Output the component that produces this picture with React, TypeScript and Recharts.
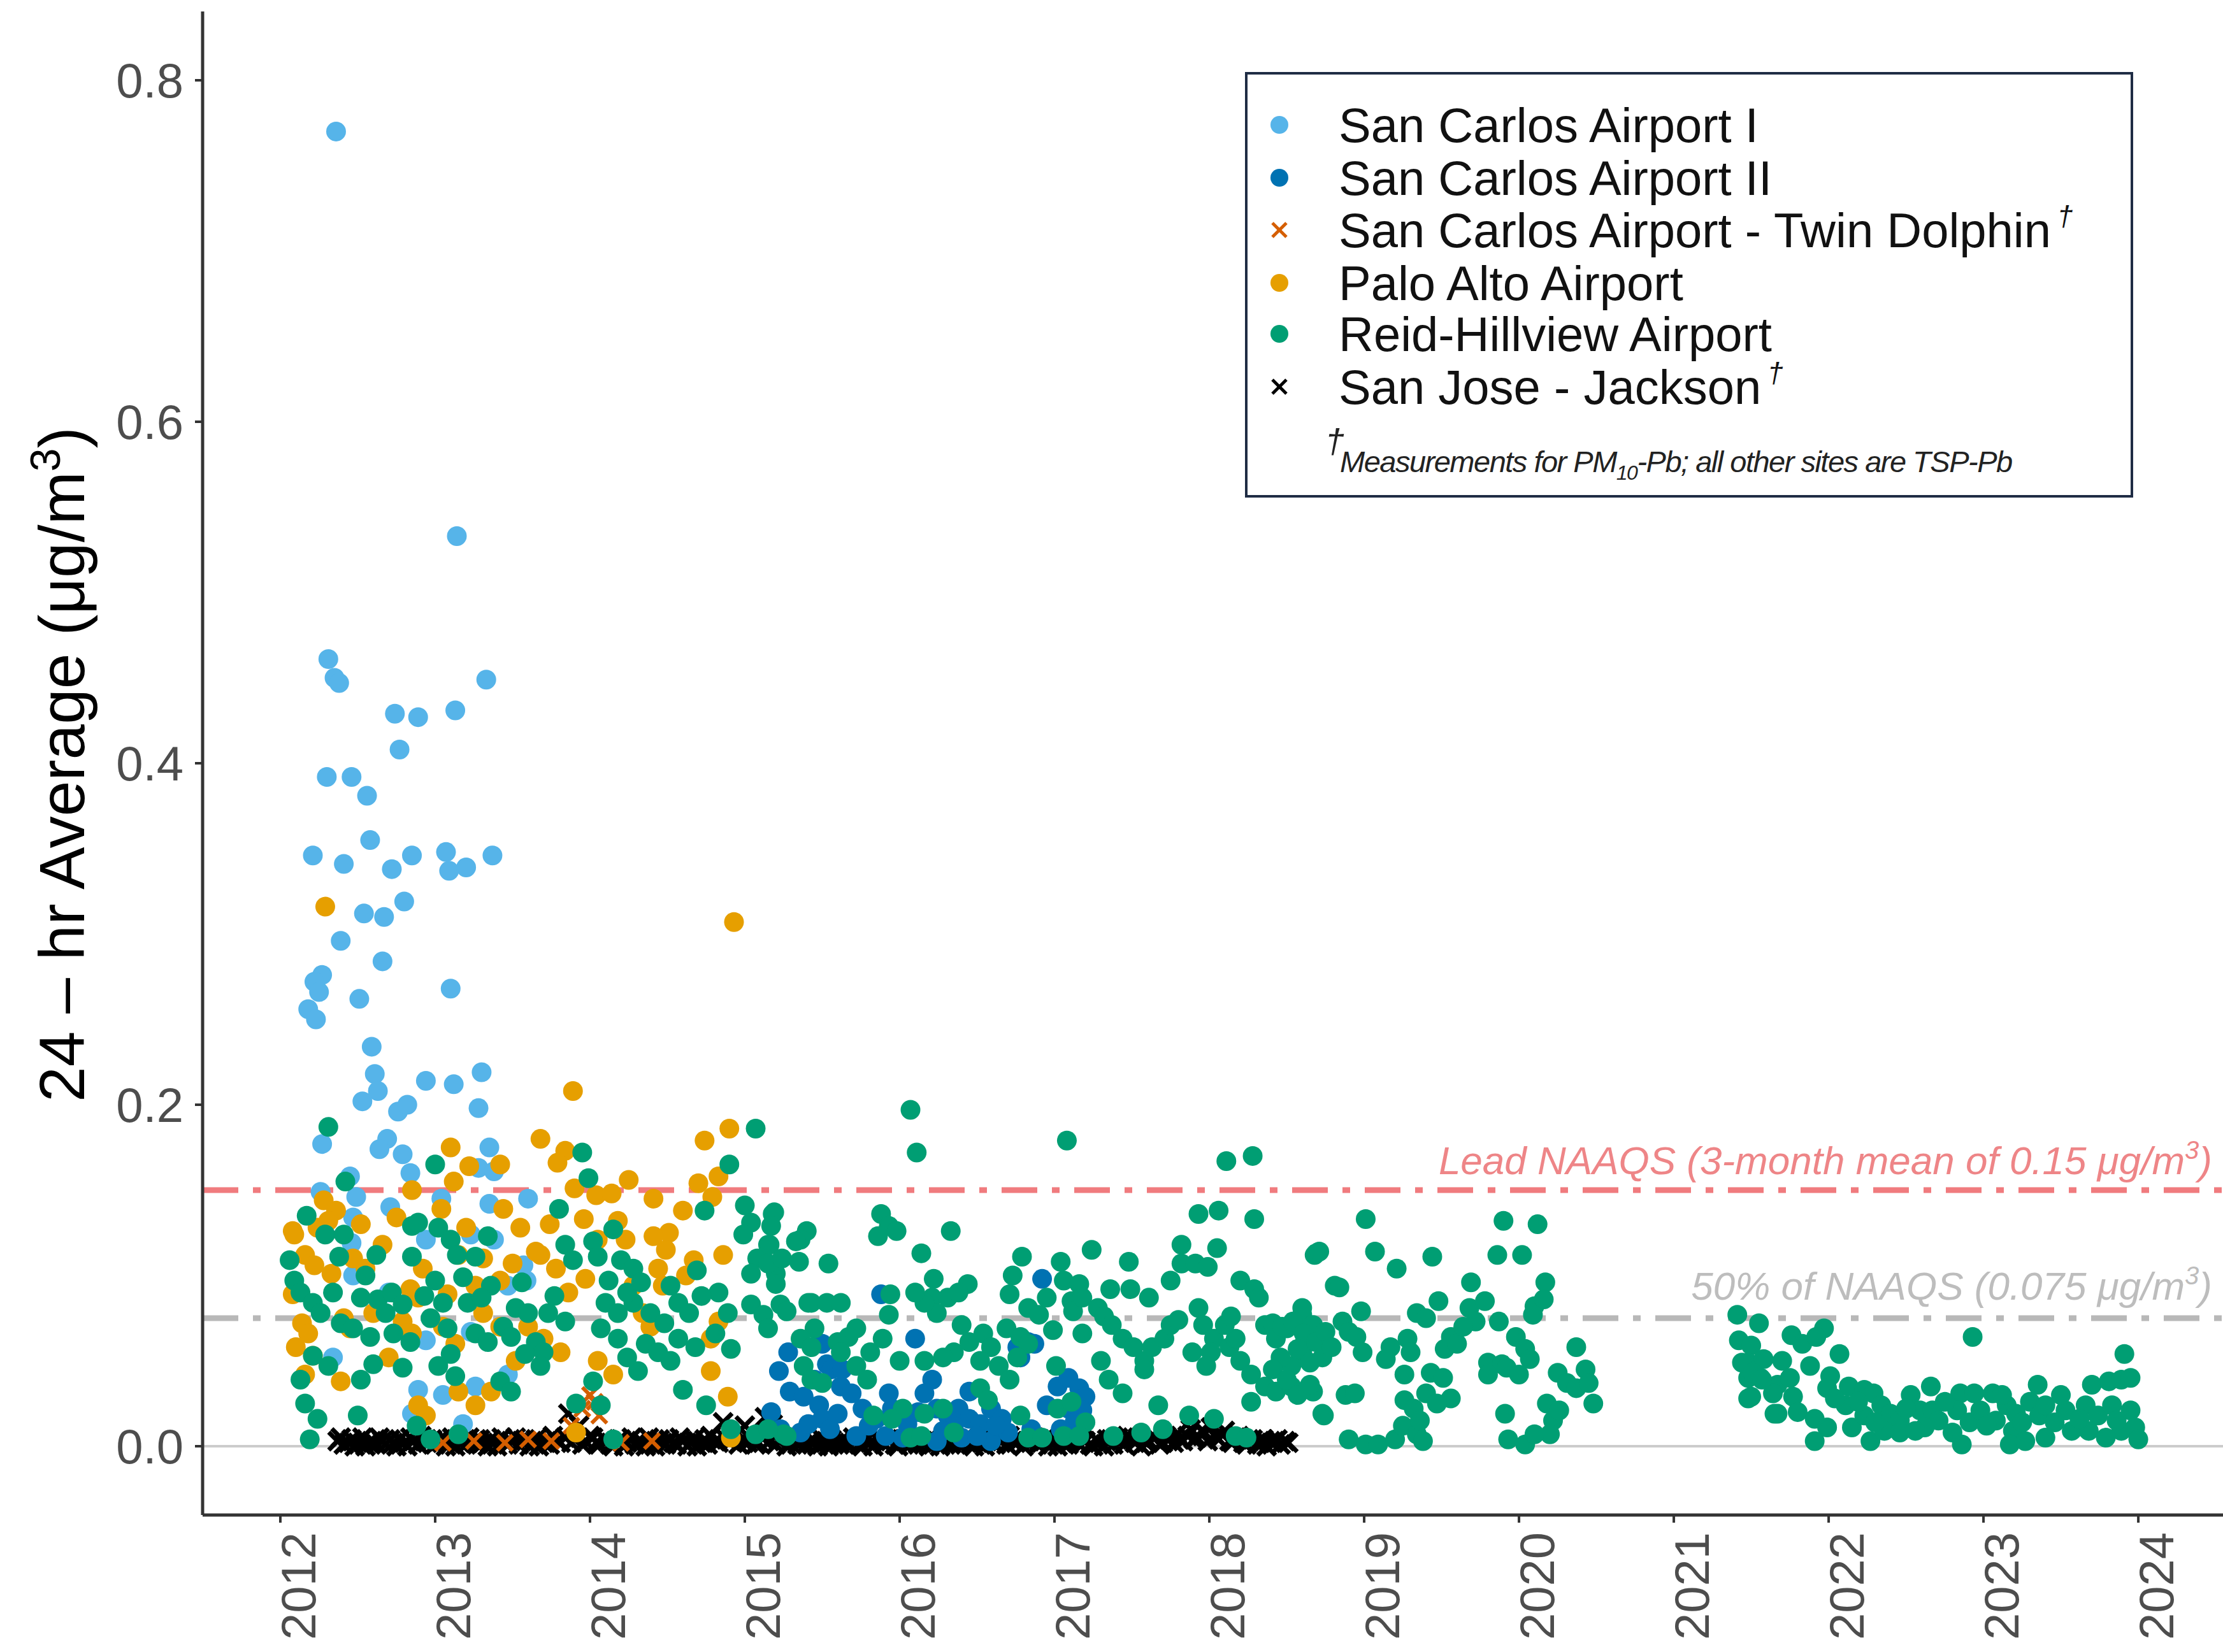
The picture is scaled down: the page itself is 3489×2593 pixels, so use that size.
import {
  ScatterChart,
  Scatter,
  XAxis,
  YAxis,
  ReferenceLine,
  Legend,
  Label,
} from 'recharts';

// [decimal year, 24-hr average µg/m3]
const sanCarlosI: [number, number][] = [
  [2012.36, 0.77], [2013.14, 0.533], [2012.31, 0.461], [2012.35, 0.45], [2012.38, 0.447],
  [2012.74, 0.429], [2012.89, 0.427], [2013.13, 0.431], [2013.33, 0.449],
  [2012.77, 0.408], [2012.3, 0.392], [2012.46, 0.392], [2012.56, 0.381], [2012.58, 0.355],
  [2012.21, 0.346], [2012.41, 0.341], [2012.72, 0.338], [2012.85, 0.346], [2013.07, 0.348],
  [2013.09, 0.337], [2013.2, 0.339], [2013.37, 0.346], [2012.8, 0.319], [2012.54, 0.312],
  [2012.67, 0.31], [2012.39, 0.296], [2012.66, 0.284], [2012.27, 0.276], [2012.22, 0.272],
  [2012.25, 0.266], [2013.1, 0.268], [2012.51, 0.262], [2012.18, 0.256], [2012.23, 0.25],
  [2012.59, 0.234], [2012.61, 0.218], [2012.63, 0.208], [2012.53, 0.202], [2012.94, 0.214],
  [2013.12, 0.212], [2013.3, 0.219], [2013.28, 0.198], [2012.76, 0.196], [2012.82, 0.2],
  [2012.27, 0.177], [2012.69, 0.18], [2012.64, 0.174], [2012.79, 0.171], [2012.84, 0.16],
  [2013.35, 0.175], [2013.28, 0.163], [2013.38, 0.161], [2012.45, 0.158], [2012.49, 0.146],
  [2012.71, 0.14], [2013.04, 0.145], [2013.6, 0.145], [2012.94, 0.121], [2013.23, 0.124],
  [2012.34, 0.052], [2012.89, 0.033], [2013.05, 0.03], [2013.26, 0.035], [2013.18, 0.013],
  [2012.85, 0.019], [2013.47, 0.042], [2013.47, 0.094], [2013.57, 0.106], [2012.47, 0.134],
  [2012.26, 0.149], [2012.46, 0.119], [2012.47, 0.1], [2012.7, 0.09], [2012.94, 0.062],
  [2013.23, 0.067], [2013.35, 0.142], [2013.38, 0.121], [2013.59, 0.097],
];

const sanCarlosII: [number, number][] = [
  [2016.92, 0.098], [2015.88, 0.089], [2016.1, 0.063], [2015.28, 0.055], [2015.22, 0.044],
  [2015.5, 0.06], [2015.53, 0.048], [2015.56, 0.045], [2015.62, 0.035], [2015.29, 0.032],
  [2015.38, 0.029], [2015.48, 0.024], [2015.5, 0.016], [2015.69, 0.031], [2015.76, 0.022],
  [2015.93, 0.031], [2015.95, 0.022], [2016.21, 0.039], [2016.16, 0.031], [2016.24, 0.022],
  [2016.31, 0.018], [2016.38, 0.022], [2016.45, 0.016], [2016.52, 0.013], [2016.59, 0.022],
  [2016.66, 0.016], [2016.76, 0.058], [2016.83, 0.061], [2016.87, 0.06], [2016.78, 0.052],
  [2017.02, 0.035], [2017.09, 0.04], [2017.16, 0.034], [2017.2, 0.029], [2016.95, 0.024],
  [2017.09, 0.022], [2017.18, 0.021], [2015.36, 0.008], [2015.55, 0.01], [2015.72, 0.006],
  [2015.91, 0.006], [2016.02, 0.005], [2016.24, 0.003], [2016.4, 0.005], [2016.59, 0.003],
  [2015.6, 0.019], [2016.45, 0.032], [2015.45, 0.039], [2015.63, 0.045], [2017.13, 0.014],
  [2017.04, 0.01], [2015.23, 0.01], [2015.41, 0.013], [2015.17, 0.02], [2015.8, 0.012],
  [2016.05, 0.013], [2016.7, 0.008], [2016.85, 0.01], [2016.35, 0.012], [2016.5, 0.006],
  [2016.28, 0.009], [2015.85, 0.016], [2016.12, 0.02], [2016.62, 0.012],
];

const twinDolphin: [number, number][] = [
  [2013.88, 0.012], [2013.95, 0.022], [2014.0, 0.03], [2014.03, 0.026], [2014.06, 0.018],
  [2013.05, 0.002], [2013.25, 0.003], [2013.45, 0.002], [2013.6, 0.004], [2013.75, 0.003],
  [2014.2, 0.002], [2014.4, 0.003],
];

const paloAlto: [number, number][] = [
  [2012.29, 0.316], [2014.93, 0.307], [2013.89, 0.208], [2013.68, 0.18], [2013.84, 0.173],
  [2013.79, 0.166], [2013.1, 0.175], [2013.22, 0.164], [2013.42, 0.165], [2013.12, 0.155],
  [2012.85, 0.15], [2013.9, 0.151], [2014.04, 0.147], [2014.14, 0.148], [2014.25, 0.156],
  [2014.41, 0.145], [2012.28, 0.144], [2012.36, 0.138], [2013.04, 0.139], [2013.44, 0.139],
  [2012.08, 0.126], [2012.52, 0.13], [2012.75, 0.134], [2013.55, 0.128], [2013.74, 0.13],
  [2013.96, 0.133], [2014.51, 0.125], [2014.74, 0.179], [2014.9, 0.186], [2014.83, 0.158],
  [2014.7, 0.154], [2014.79, 0.146], [2012.31, 0.132], [2012.09, 0.124], [2014.86, 0.112],
  [2014.67, 0.109], [2012.16, 0.112], [2012.22, 0.106], [2012.47, 0.11], [2012.55, 0.104],
  [2012.92, 0.104], [2013.15, 0.112], [2013.31, 0.11], [2013.65, 0.114], [2014.05, 0.121],
  [2014.23, 0.121], [2014.41, 0.123], [2014.49, 0.115], [2012.08, 0.089], [2012.84, 0.092],
  [2012.89, 0.087], [2013.08, 0.089], [2013.26, 0.094], [2013.42, 0.097], [2013.68, 0.112],
  [2013.78, 0.104], [2013.86, 0.09], [2014.44, 0.104], [2014.47, 0.094], [2012.14, 0.072],
  [2012.18, 0.066], [2012.1, 0.058], [2012.41, 0.075], [2012.45, 0.069], [2012.79, 0.073],
  [2012.85, 0.066], [2012.6, 0.078], [2013.05, 0.07], [2013.13, 0.06], [2013.31, 0.078],
  [2013.42, 0.07], [2013.6, 0.07], [2013.7, 0.063], [2013.81, 0.055], [2014.05, 0.05],
  [2014.15, 0.042], [2014.34, 0.078], [2014.39, 0.07], [2014.83, 0.073], [2014.78, 0.063],
  [2014.78, 0.044], [2014.89, 0.029], [2012.39, 0.038], [2012.21, 0.053], [2012.16, 0.042],
  [2012.89, 0.024], [2012.94, 0.018], [2013.15, 0.032], [2013.26, 0.024], [2013.36, 0.032],
  [2013.91, 0.008], [2014.91, 0.005], [2012.24, 0.128], [2012.33, 0.101], [2012.66, 0.118],
  [2013.2, 0.128], [2013.5, 0.107], [2013.97, 0.098], [2014.18, 0.132], [2014.6, 0.138],
  [2014.62, 0.1], [2012.7, 0.052], [2013.52, 0.05], [2014.28, 0.094],
];

const reidHillview: [number, number][] = [
  // 2012 - mid 2015
  [2012.31, 0.187], [2015.07, 0.186], [2013.95, 0.172], [2013.99, 0.157], [2012.42, 0.155],
  [2013.0, 0.165], [2014.9, 0.165], [2014.74, 0.138], [2015.0, 0.141], [2015.19, 0.137],
  [2015.04, 0.131], [2012.17, 0.135], [2013.8, 0.139], [2014.15, 0.127], [2015.4, 0.126],
  [2015.36, 0.121], [2012.29, 0.124], [2012.41, 0.124], [2012.85, 0.129], [2012.89, 0.131],
  [2013.02, 0.128], [2013.1, 0.121], [2013.34, 0.123], [2013.84, 0.118], [2014.02, 0.12],
  [2014.99, 0.124], [2015.15, 0.118], [2015.08, 0.11], [2012.06, 0.109], [2012.38, 0.111],
  [2012.62, 0.112], [2012.85, 0.111], [2013.14, 0.112], [2013.26, 0.111], [2013.89, 0.109],
  [2014.05, 0.111], [2014.2, 0.109], [2014.28, 0.104], [2014.69, 0.103], [2015.04, 0.101],
  [2015.2, 0.101], [2012.09, 0.097], [2012.13, 0.09], [2012.34, 0.09], [2012.21, 0.084],
  [2012.52, 0.087], [2012.63, 0.086], [2012.72, 0.09], [2012.79, 0.083], [2013.0, 0.097],
  [2013.05, 0.084], [2013.21, 0.084], [2013.36, 0.094], [2013.52, 0.081], [2013.6, 0.078],
  [2013.73, 0.078], [2013.84, 0.073], [2014.1, 0.084], [2014.18, 0.078], [2014.28, 0.084],
  [2014.39, 0.078], [2014.52, 0.094], [2014.57, 0.084], [2014.83, 0.09], [2014.89, 0.078],
  [2015.04, 0.083], [2015.12, 0.077], [2015.23, 0.083], [2015.41, 0.084], [2012.26, 0.078],
  [2012.39, 0.072], [2012.47, 0.069], [2012.58, 0.064], [2012.73, 0.066], [2012.84, 0.061],
  [2012.97, 0.075], [2013.08, 0.069], [2013.26, 0.066], [2013.34, 0.061], [2013.44, 0.07],
  [2013.49, 0.064], [2013.65, 0.061], [2013.7, 0.055], [2014.07, 0.069], [2014.18, 0.063],
  [2014.36, 0.06], [2014.44, 0.055], [2014.57, 0.063], [2014.68, 0.058], [2014.81, 0.066],
  [2014.91, 0.057], [2012.21, 0.053], [2012.31, 0.047], [2012.13, 0.039], [2012.52, 0.039],
  [2012.79, 0.046], [2013.02, 0.047], [2013.13, 0.041], [2013.42, 0.038], [2013.49, 0.032],
  [2013.68, 0.047], [2014.02, 0.038], [2014.31, 0.044], [2014.6, 0.033], [2014.75, 0.024],
  [2012.16, 0.025], [2012.24, 0.016], [2012.19, 0.004], [2012.5, 0.018], [2012.88, 0.012],
  [2012.97, 0.004], [2013.15, 0.007], [2013.91, 0.025], [2014.07, 0.024], [2014.15, 0.004],
  [2014.91, 0.01], [2015.07, 0.007], [2015.25, 0.007],
  [2012.55, 0.1], [2012.68, 0.078], [2012.93, 0.088], [2013.18, 0.099], [2013.3, 0.087],
  [2013.56, 0.096], [2013.77, 0.088], [2014.12, 0.097], [2014.24, 0.09], [2014.33, 0.096],
  [2014.48, 0.072], [2014.64, 0.078], [2014.72, 0.088], [2013.58, 0.054], [2014.24, 0.052],
  [2014.52, 0.05], [2012.6, 0.048], [2013.1, 0.054],
  // mid 2015 - 2018
  [2016.07, 0.197], [2016.11, 0.172], [2017.08, 0.179], [2018.11, 0.167], [2018.28, 0.17],
  [2015.18, 0.136], [2015.17, 0.129], [2015.33, 0.12], [2015.16, 0.118], [2015.15, 0.107],
  [2015.24, 0.11], [2015.35, 0.108], [2015.2, 0.095], [2015.27, 0.079], [2015.15, 0.069],
  [2015.54, 0.107], [2015.43, 0.084], [2015.53, 0.084], [2015.62, 0.084], [2015.45, 0.069],
  [2015.72, 0.069], [2015.67, 0.064], [2015.36, 0.063], [2015.43, 0.058], [2015.6, 0.061],
  [2015.62, 0.055], [2015.38, 0.047], [2015.43, 0.039], [2015.72, 0.047], [2015.79, 0.039],
  [2015.88, 0.136], [2015.93, 0.129], [2015.86, 0.123], [2015.98, 0.126], [2016.33, 0.126],
  [2016.14, 0.113], [2016.22, 0.098], [2016.21, 0.087], [2016.24, 0.078], [2016.16, 0.084],
  [2016.1, 0.09], [2016.31, 0.087], [2016.44, 0.095], [2016.38, 0.09], [2015.94, 0.089],
  [2015.93, 0.077], [2015.89, 0.063], [2015.81, 0.055], [2016.0, 0.05], [2016.16, 0.05],
  [2016.4, 0.071], [2016.45, 0.061], [2016.35, 0.055], [2016.28, 0.052], [2016.54, 0.066],
  [2016.59, 0.058], [2016.52, 0.05], [2016.64, 0.047], [2016.69, 0.069], [2016.79, 0.111],
  [2016.73, 0.1], [2016.71, 0.089], [2016.83, 0.081], [2016.9, 0.077], [2017.04, 0.108],
  [2016.95, 0.087], [2017.06, 0.097], [2017.16, 0.095], [2017.11, 0.085], [2017.12, 0.079],
  [2016.78, 0.064], [2016.83, 0.06], [2016.99, 0.068], [2017.01, 0.047], [2016.76, 0.052],
  [2016.71, 0.039], [2016.52, 0.034], [2016.57, 0.027], [2016.28, 0.022], [2016.16, 0.019],
  [2016.02, 0.022], [2015.83, 0.018], [2015.95, 0.016], [2016.07, 0.005], [2016.14, 0.006],
  [2015.5, 0.037], [2015.27, 0.006], [2015.15, 0.01], [2016.35, 0.008], [2016.78, 0.018],
  [2016.83, 0.005], [2016.92, 0.005], [2017.02, 0.022], [2017.11, 0.026], [2017.2, 0.014],
  [2017.06, 0.006], [2017.16, 0.006], [2017.24, 0.115], [2017.18, 0.087], [2017.28, 0.081],
  [2017.32, 0.076], [2017.36, 0.092], [2017.49, 0.092], [2017.48, 0.108], [2017.61, 0.087],
  [2017.18, 0.066], [2017.37, 0.071], [2017.44, 0.063], [2017.51, 0.058], [2017.58, 0.05],
  [2017.63, 0.058], [2017.71, 0.063], [2017.75, 0.071], [2017.8, 0.074], [2017.3, 0.05],
  [2017.35, 0.039], [2017.44, 0.031], [2017.58, 0.045], [2017.67, 0.024], [2017.82, 0.118],
  [2017.82, 0.107], [2017.75, 0.097], [2017.91, 0.107], [2017.99, 0.105], [2018.05, 0.116],
  [2017.93, 0.136], [2018.06, 0.138], [2018.29, 0.133], [2017.93, 0.081], [2017.96, 0.071],
  [2018.03, 0.063], [2018.01, 0.055], [2018.13, 0.058], [2017.89, 0.055], [2017.98, 0.047],
  [2018.2, 0.097], [2018.29, 0.092], [2018.32, 0.087], [2018.17, 0.063], [2018.2, 0.05],
  [2018.1, 0.071], [2018.14, 0.076], [2018.36, 0.071], [2018.43, 0.063], [2018.27, 0.042],
  [2018.36, 0.035], [2018.43, 0.032], [2018.53, 0.035], [2018.67, 0.032], [2018.27, 0.026],
  [2018.6, 0.077], [2018.5, 0.069], [2018.62, 0.063], [2018.6, 0.055], [2018.53, 0.047],
  [2018.67, 0.071], [2018.74, 0.063], [2018.69, 0.113], [2018.74, 0.018], [2018.81, 0.094],
  [2017.87, 0.018], [2018.03, 0.016], [2018.17, 0.006], [2018.24, 0.005], [2017.38, 0.006],
  [2017.56, 0.008], [2017.7, 0.01],
  // 2018.4 - 2020.5
  [2019.01, 0.133], [2019.9, 0.132], [2020.12, 0.13], [2018.68, 0.112], [2018.71, 0.114],
  [2019.07, 0.114], [2019.21, 0.104], [2019.44, 0.111], [2019.86, 0.112], [2020.02, 0.112],
  [2019.69, 0.096], [2018.84, 0.093], [2020.17, 0.096], [2018.6, 0.081], [2018.98, 0.079],
  [2019.48, 0.085], [2019.34, 0.078], [2019.4, 0.075], [2019.68, 0.081], [2019.78, 0.085],
  [2019.72, 0.073], [2020.1, 0.082], [2020.16, 0.086], [2020.09, 0.077], [2018.41, 0.072],
  [2018.47, 0.07], [2018.54, 0.073], [2018.61, 0.066], [2018.69, 0.061], [2018.75, 0.067],
  [2018.86, 0.073], [2018.9, 0.067], [2018.46, 0.052], [2018.57, 0.057], [2018.65, 0.049],
  [2018.73, 0.052], [2018.79, 0.058], [2018.95, 0.064], [2018.99, 0.055], [2019.17, 0.058],
  [2019.14, 0.051], [2019.28, 0.063], [2019.3, 0.055], [2019.56, 0.064], [2019.52, 0.057],
  [2019.6, 0.06], [2019.64, 0.07], [2019.87, 0.073], [2019.98, 0.064], [2020.04, 0.057],
  [2019.8, 0.049], [2019.89, 0.048], [2020.07, 0.051], [2020.37, 0.058], [2020.25, 0.043],
  [2020.31, 0.037], [2020.37, 0.034], [2020.43, 0.045], [2020.45, 0.037], [2020.48, 0.025],
  [2018.41, 0.045], [2018.5, 0.039], [2018.57, 0.03], [2018.65, 0.036], [2018.73, 0.019],
  [2018.88, 0.03], [2018.94, 0.031], [2019.26, 0.042], [2019.26, 0.027], [2019.32, 0.022],
  [2019.43, 0.043], [2019.51, 0.04], [2019.4, 0.031], [2019.56, 0.028], [2019.47, 0.025],
  [2019.8, 0.042], [2019.92, 0.046], [2020.0, 0.042], [2019.91, 0.019], [2020.18, 0.025],
  [2020.22, 0.015], [2020.26, 0.021], [2020.2, 0.007], [2018.9, 0.004], [2019.01, 0.001],
  [2019.09, 0.001], [2019.2, 0.004], [2019.25, 0.012], [2019.34, 0.007], [2019.38, 0.003],
  [2019.36, 0.015], [2019.93, 0.004], [2020.04, 0.001], [2020.1, 0.007],
  // 2021.4 - 2024
  [2021.41, 0.077], [2021.55, 0.072], [2021.42, 0.062], [2021.5, 0.059], [2021.76, 0.065],
  [2021.83, 0.06], [2021.97, 0.069], [2021.92, 0.064], [2022.07, 0.054], [2021.48, 0.049],
  [2021.58, 0.051], [2021.7, 0.05], [2021.88, 0.047], [2021.48, 0.04], [2021.56, 0.04],
  [2021.67, 0.036], [2021.75, 0.04], [2021.5, 0.029], [2021.64, 0.031], [2021.77, 0.029],
  [2021.67, 0.019], [2021.8, 0.02], [2022.01, 0.041], [2021.99, 0.034], [2021.91, 0.016],
  [2021.99, 0.011], [2021.91, 0.003], [2022.13, 0.035], [2022.23, 0.033], [2022.29, 0.031],
  [2022.11, 0.024], [2022.15, 0.011], [2022.23, 0.018], [2022.27, 0.003], [2022.34, 0.024],
  [2022.4, 0.019], [2022.46, 0.015], [2022.36, 0.009], [2022.46, 0.008], [2022.53, 0.03],
  [2022.59, 0.021], [2022.66, 0.035], [2022.67, 0.021], [2022.71, 0.015], [2022.62, 0.011],
  [2022.56, 0.009], [2022.93, 0.064], [2022.85, 0.031], [2022.94, 0.031], [2023.06, 0.031],
  [2022.83, 0.021], [2022.91, 0.014], [2022.98, 0.021], [2022.86, 0.001], [2023.08, 0.015],
  [2023.15, 0.024], [2023.19, 0.009], [2023.21, 0.019], [2023.25, 0.014], [2023.3, 0.026],
  [2023.35, 0.036], [2023.36, 0.018], [2023.17, 0.001], [2023.27, 0.003], [2023.4, 0.024],
  [2023.46, 0.014], [2023.53, 0.021], [2023.4, 0.005], [2023.57, 0.009], [2023.7, 0.036],
  [2023.81, 0.038], [2023.89, 0.039], [2023.91, 0.054], [2023.95, 0.04], [2023.66, 0.024],
  [2023.74, 0.018], [2023.83, 0.024], [2023.89, 0.009], [2023.98, 0.011], [2024.0, 0.004],
  [2023.95, 0.021], [2023.68, 0.009], [2023.79, 0.005], [2021.44, 0.049], [2021.51, 0.043],
  [2021.57, 0.039], [2021.48, 0.028], [2021.65, 0.019], [2022.04, 0.028], [2022.19, 0.026],
  [2022.5, 0.022], [2022.75, 0.026], [2023.02, 0.012], [2023.12, 0.03], [2023.5, 0.03],
  [2023.62, 0.016], [2023.86, 0.015], [2022.8, 0.008], [2022.3, 0.014],
];

const sanJoseJackson: [number, number][] = [
  [2012.37, 0.003], [2012.39, 0.005], [2012.41, 0.001], [2012.44, 0.002], [2012.46, 0.004],
  [2012.48, 0.0], [2012.5, 0.002], [2012.53, 0.005], [2012.55, 0.0], [2012.57, 0.002],
  [2012.59, 0.003], [2012.62, 0.001], [2012.64, 0.005], [2012.66, 0.003], [2012.68, 0.001],
  [2012.71, 0.004], [2012.73, 0.002], [2012.75, 0.0], [2012.77, 0.004], [2012.8, 0.002],
  [2012.82, 0.0], [2012.84, 0.005], [2012.86, 0.003], [2012.89, 0.001], [2012.91, 0.006],
  [2012.93, 0.003], [2012.95, 0.002], [2012.98, 0.004], [2013.0, 0.001], [2013.02, 0.003],
  [2013.04, 0.004], [2013.07, 0.0], [2013.09, 0.002], [2013.11, 0.005], [2013.13, 0.0],
  [2013.16, 0.002], [2013.18, 0.003], [2013.2, 0.001], [2013.22, 0.005], [2013.25, 0.003],
  [2013.27, 0.001], [2013.29, 0.004], [2013.31, 0.002], [2013.34, 0.0], [2013.36, 0.004],
  [2013.38, 0.002], [2013.4, 0.0], [2013.43, 0.005], [2013.45, 0.002], [2013.47, 0.001],
  [2013.49, 0.003], [2013.52, 0.005], [2013.54, 0.001], [2013.56, 0.003], [2013.58, 0.004],
  [2013.61, 0.0], [2013.63, 0.002], [2013.65, 0.004], [2013.67, 0.0], [2013.7, 0.002],
  [2013.72, 0.003], [2013.74, 0.001], [2013.76, 0.006], [2013.79, 0.003], [2013.81, 0.002],
  [2013.84, 0.005], [2013.86, 0.019], [2013.88, 0.002], [2013.9, 0.004], [2013.93, 0.012],
  [2013.95, 0.001], [2013.97, 0.003], [2014.0, 0.006], [2014.02, 0.005], [2014.04, 0.002],
  [2014.06, 0.001], [2014.09, 0.004], [2014.11, 0.003], [2014.13, 0.001], [2014.15, 0.0],
  [2014.18, 0.003], [2014.2, 0.004], [2014.22, 0.0], [2014.24, 0.002], [2014.27, 0.005],
  [2014.29, 0.001], [2014.31, 0.002], [2014.33, 0.003], [2014.36, 0.0], [2014.38, 0.005],
  [2014.4, 0.002], [2014.42, 0.0], [2014.45, 0.004], [2014.47, 0.002], [2014.49, 0.001],
  [2014.51, 0.004], [2014.54, 0.002], [2014.56, 0.001], [2014.58, 0.005], [2014.6, 0.003],
  [2014.63, 0.0], [2014.65, 0.002], [2014.67, 0.004], [2014.69, 0.0], [2014.72, 0.002],
  [2014.74, 0.004], [2014.76, 0.001], [2014.78, 0.006], [2014.81, 0.003], [2014.83, 0.002],
  [2014.86, 0.014], [2014.88, 0.004], [2014.91, 0.003], [2014.93, 0.006], [2014.96, 0.001],
  [2014.98, 0.004], [2015.0, 0.012], [2015.02, 0.002], [2015.04, 0.004], [2015.07, 0.001],
  [2015.09, 0.002], [2015.11, 0.005], [2015.13, 0.017], [2015.16, 0.003], [2015.18, 0.013],
  [2015.2, 0.001], [2015.22, 0.003], [2015.25, 0.005], [2015.27, 0.0], [2015.29, 0.002],
  [2015.31, 0.004], [2015.34, 0.001], [2015.36, 0.002], [2015.38, 0.005], [2015.4, 0.001],
  [2015.43, 0.003], [2015.45, 0.003], [2015.47, 0.0], [2015.49, 0.005], [2015.52, 0.002],
  [2015.54, 0.0], [2015.56, 0.004], [2015.58, 0.002], [2015.61, 0.001], [2015.63, 0.004],
  [2015.65, 0.002], [2015.67, 0.001], [2015.7, 0.005], [2015.72, 0.003], [2015.74, 0.001],
  [2015.76, 0.0], [2015.79, 0.004], [2015.81, 0.002], [2015.83, 0.0], [2015.85, 0.005],
  [2015.88, 0.003], [2015.9, 0.001], [2015.92, 0.004], [2015.94, 0.003], [2015.97, 0.001],
  [2015.99, 0.0], [2016.01, 0.003], [2016.03, 0.004], [2016.06, 0.001], [2016.08, 0.002],
  [2016.1, 0.005], [2016.12, 0.001], [2016.15, 0.003], [2016.17, 0.003], [2016.19, 0.0],
  [2016.21, 0.005], [2016.24, 0.002], [2016.26, 0.0], [2016.28, 0.004], [2016.3, 0.002],
  [2016.33, 0.001], [2016.35, 0.004], [2016.37, 0.002], [2016.39, 0.001], [2016.42, 0.005],
  [2016.44, 0.003], [2016.46, 0.001], [2016.48, 0.0], [2016.51, 0.004], [2016.53, 0.002],
  [2016.55, 0.0], [2016.57, 0.004], [2016.6, 0.002], [2016.62, 0.001], [2016.64, 0.005],
  [2016.66, 0.003], [2016.69, 0.001], [2016.71, 0.006], [2016.73, 0.003], [2016.75, 0.002],
  [2016.78, 0.004], [2016.8, 0.0], [2016.82, 0.002], [2016.84, 0.003], [2016.87, 0.005],
  [2016.89, 0.001], [2016.91, 0.003], [2016.93, 0.004], [2016.96, 0.0], [2016.98, 0.002],
  [2017.0, 0.004], [2017.02, 0.0], [2017.05, 0.002], [2017.07, 0.003], [2017.09, 0.001],
  [2017.11, 0.005], [2017.14, 0.003], [2017.16, 0.001], [2017.18, 0.004], [2017.2, 0.003],
  [2017.23, 0.001], [2017.25, 0.0], [2017.27, 0.004], [2017.29, 0.002], [2017.32, 0.0],
  [2017.34, 0.004], [2017.36, 0.003], [2017.38, 0.001], [2017.41, 0.005], [2017.43, 0.003],
  [2017.45, 0.001], [2017.47, 0.006], [2017.5, 0.004], [2017.52, 0.002], [2017.54, 0.005],
  [2017.56, 0.0], [2017.59, 0.002], [2017.61, 0.003], [2017.63, 0.006], [2017.65, 0.005],
  [2017.68, 0.001], [2017.7, 0.002], [2017.72, 0.006], [2017.74, 0.004], [2017.77, 0.002],
  [2017.79, 0.007], [2017.81, 0.004], [2017.83, 0.003], [2017.86, 0.006], [2017.88, 0.01],
  [2017.9, 0.004], [2017.92, 0.005], [2017.95, 0.009], [2017.97, 0.008], [2017.99, 0.003],
  [2018.01, 0.011], [2018.04, 0.006], [2018.06, 0.004], [2018.08, 0.007], [2018.1, 0.009],
  [2018.13, 0.003], [2018.15, 0.002], [2018.17, 0.005], [2018.19, 0.006], [2018.22, 0.002],
  [2018.24, 0.001], [2018.26, 0.003], [2018.28, 0.004], [2018.31, 0.001], [2018.33, 0.002],
  [2018.35, 0.004], [2018.37, 0.0], [2018.4, 0.002], [2018.42, 0.003], [2018.44, 0.004],
  [2018.46, 0.001], [2018.49, 0.003], [2018.51, 0.002],
];

const yearTicks = [2012, 2013, 2014, 2015, 2016, 2017, 2018, 2019, 2020, 2021, 2022, 2023, 2024];
const valueTicks = [0, 0.2, 0.4, 0.6, 0.8];
const naaqs = 0.15;
const halfNaaqs = 0.075;

const siteNames = [
  'San Carlos Airport I',
  'San Carlos Airport II',
  'San Carlos Airport - Twin Dolphin',
  'Palo Alto Airport',
  'Reid-Hillview Airport',
  'San Jose - Jackson',
];
const siteColors = ['#56B4E9', '#0072B2', '#D55E00', '#E69F00', '#009E73', '#000000'];
const siteIsPm10 = [false, false, true, false, false, true];

const FONT = '"Liberation Sans", Arial, sans-serif';

const toPts = (arr: [number, number][]) => arr.map(([x, y]) => ({ x, y }));

const dot = (color: string) => (props: any) => (
  <circle cx={props.cx} cy={props.cy} r={15.5} fill={color} />
);

const cross = (color: string, s: number, w: number) => (props: any) => {
  const { cx, cy } = props;
  return (
    <g stroke={color} strokeWidth={w}>
      <line x1={cx - s} y1={cy - s} x2={cx + s} y2={cy + s} />
      <line x1={cx - s} y1={cy + s} x2={cx + s} y2={cy - s} />
    </g>
  );
};

function XTick(props: any) {
  const { x, y, payload } = props;
  const bx = x + 55;
  const by = y + 13;
  return (
    <text
      x={bx}
      y={by}
      transform={`rotate(-90, ${bx}, ${by})`}
      textAnchor="end"
      fontSize={76}
      fontFamily={FONT}
      fill="#4d4d4d"
    >
      {payload.value}
    </text>
  );
}

function YTitle() {
  return (
    <text
      x={132}
      y={1200}
      transform="rotate(-90, 132, 1200)"
      textAnchor="middle"
      fontSize={100}
      fontFamily={FONT}
      fill="#000"
    >
      <tspan>24 – hr Average (μg/m</tspan>
      <tspan dy={-38} fontSize={66}>3</tspan>
      <tspan dy={38}>)</tspan>
    </text>
  );
}

const lineLabel = (text: string, color: string, lift: number) => (props: any) => {
  const vb = props.viewBox || {};
  const x = vb.x + vb.width - 17;
  const y = vb.y - lift;
  return (
    <text x={x} y={y} textAnchor="end" fontSize={62} fontStyle="italic" fontFamily={FONT} fill={color}>
      <tspan>{text}</tspan>
      <tspan dy={-24} fontSize={40}>3</tspan>
      <tspan dy={24}>)</tspan>
    </text>
  );
};

function LegendBox() {
  const rowY = [83, 166, 248, 331, 411, 494];
  return (
    <svg width={1394} height={668} style={{ display: 'block' }}>
      <rect x={2} y={2} width={1390} height={664} fill="#fff" stroke="#1f2c44" strokeWidth={4} />
      {siteNames.map((name, i) => {
        const cy = rowY[i];
        const isCross = i === 2 || i === 5;
        return (
          <g key={name}>
            {isCross ? (
              <g stroke={siteColors[i]} strokeWidth={5}>
                <line x1={43} y1={cy - 11} x2={65} y2={cy + 11} />
                <line x1={43} y1={cy + 11} x2={65} y2={cy - 11} />
              </g>
            ) : (
              <circle cx={54} cy={cy} r={14} fill={siteColors[i]} />
            )}
            <text x={147} y={cy + 27} fontSize={76} fontFamily={FONT} fill="#111">
              <tspan>{name}</tspan>
              {siteIsPm10[i] && (
                <tspan dx={10} dy={-34} fontSize={44} fontStyle="italic">†</tspan>
              )}
            </text>
          </g>
        );
      })}
      <text x={126} y={598} fontSize={54} fontStyle="italic" fontFamily={FONT} fill="#222">
        <tspan>†</tspan>
        <tspan x={149} dy={30} fontSize={47} letterSpacing={-1.5}>Measurements for PM</tspan>
        <tspan dy={12} fontSize={32} letterSpacing={-1.5}>10</tspan>
        <tspan dy={-12} fontSize={47} letterSpacing={-1.5}>-Pb; all other sites are TSP-Pb</tspan>
      </text>
    </svg>
  );
}

export default function App() {
  return (
    <div style={{ position: 'absolute', left: 0, top: 0, width: 3489, height: 2593, background: '#fff' }}>
      <ScatterChart width={3489} height={2593} margin={{ top: 18, right: 0, bottom: 0, left: 0 }}>
        <XAxis
          type="number"
          dataKey="x"
          domain={[2011.498, 2024.547]}
          ticks={yearTicks}
          allowDataOverflow
          height={215}
          tickSize={12}
          tick={<XTick />}
          axisLine={{ stroke: '#333', strokeWidth: 5 }}
          tickLine={{ stroke: '#333', strokeWidth: 4 }}
        />
        <YAxis
          type="number"
          dataKey="y"
          domain={[-0.0403, 0.8403]}
          ticks={valueTicks}
          allowDataOverflow
          width={318}
          tickSize={12}
          tickMargin={18}
          tickFormatter={(v: number) => v.toFixed(1)}
          tick={{ fill: '#4d4d4d', fontSize: 76, fontFamily: FONT }}
          axisLine={{ stroke: '#333', strokeWidth: 5 }}
          tickLine={{ stroke: '#333', strokeWidth: 4 }}
        >
          <Label content={<YTitle />} />
        </YAxis>
        <ReferenceLine y={0} stroke="#cccccc" strokeWidth={4} />
        <Scatter name={siteNames[0]} data={toPts(sanCarlosI)} shape={dot(siteColors[0])} isAnimationActive={false} />
        <Scatter name={siteNames[5]} data={toPts(sanJoseJackson)} shape={cross(siteColors[5], 14, 7)} isAnimationActive={false} />
        <Scatter name={siteNames[2]} data={toPts(twinDolphin)} shape={cross(siteColors[2], 12, 6)} isAnimationActive={false} />
        <Scatter name={siteNames[1]} data={toPts(sanCarlosII)} shape={dot(siteColors[1])} isAnimationActive={false} />
        <Scatter name={siteNames[3]} data={toPts(paloAlto)} shape={dot(siteColors[3])} isAnimationActive={false} />
        <Scatter name={siteNames[4]} data={toPts(reidHillview)} shape={dot(siteColors[4])} isAnimationActive={false} />
        <ReferenceLine
          y={naaqs}
          stroke="#F07B7E"
          strokeWidth={9}
          strokeDasharray="56 23 12 23"
          label={lineLabel('Lead NAAQS (3-month mean of 0.15 μg/m', '#EE8587', 25)}
        />
        <ReferenceLine
          y={halfNaaqs}
          stroke="#B8B8B8"
          strokeWidth={9}
          strokeDasharray="56 23 12 23"
          label={lineLabel('50% of NAAQS (0.075 μg/m', '#BDBDBD', 29)}
        />
        <Legend
          layout="horizontal"
          verticalAlign="middle"
          align="center"
          content={() => <LegendBox />}
          wrapperStyle={{ position: 'absolute', left: 1954, top: 113, width: 1394, height: 668 }}
        />
      </ScatterChart>
    </div>
  );
}
